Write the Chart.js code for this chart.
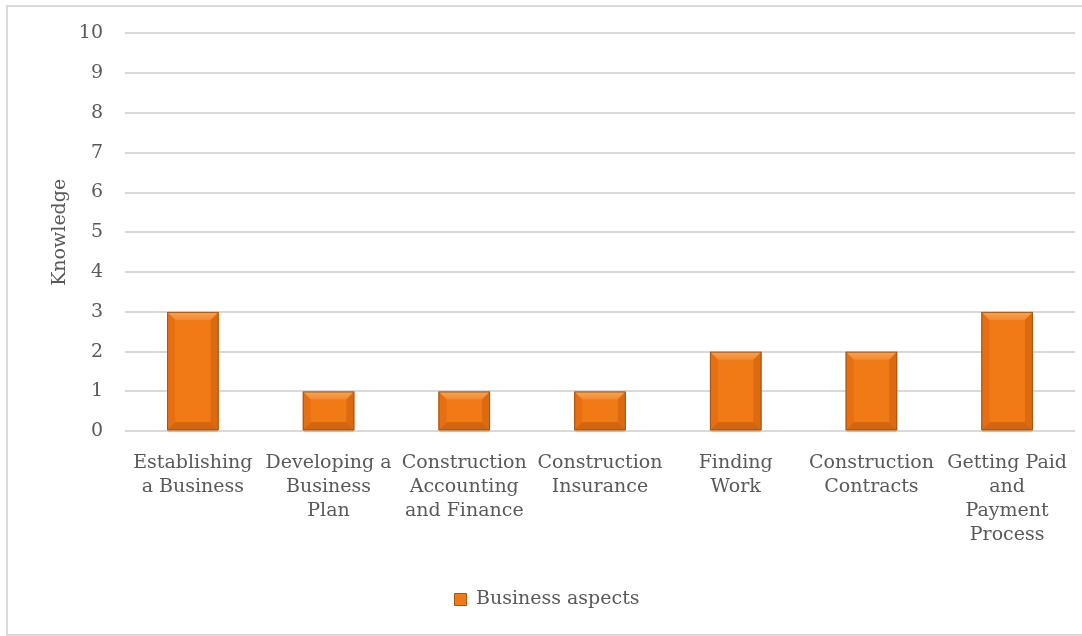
<!DOCTYPE html>
<html>
<head>
<meta charset="utf-8">
<script src="https://cdn.jsdelivr.net/npm/chart.js@4"></script>
<style>
  html, body { margin: 0; padding: 0; background: #fff; overflow: hidden; }
  #frame { position: absolute; left: 6px; top: 5px; width: 1090px; height: 627px; border: 2px solid #d9d9d9; pointer-events: none; }
  canvas { position: absolute; left: 0; top: 0; }
</style>
</head>
<body>
<canvas id="chart" width="1082" height="636"></canvas>
<div id="frame"></div>
<script>
// categories (wrapped the way the original chart wraps them)
const categories = [
    ['Establishing', 'a Business'],
    ['Developing a', 'Business', 'Plan'],
    ['Construction', 'Accounting', 'and Finance'],
    ['Construction', 'Insurance'],
    ['Finding', 'Work'],
    ['Construction', 'Contracts'],
    ['Getting Paid', 'and', 'Payment', 'Process']
];

// knowledge score per aspect
const knowledgeValues = [3, 1, 1, 1, 2, 2, 3];

const seriesName = 'Business aspects';
const yMin = 0;
const yMax = 10;

const fontFamily = '"DejaVu Serif", "Liberation Serif", serif';
const textColor = '#595959';

// draws the bevelled look on each bar, from the bar elements chart.js placed
const bevelPlugin = {
    id: 'bevel',
    afterDatasetsDraw(chart) {
        const c = chart.ctx;
        chart.getDatasetMeta(0).data.forEach(bar => {
            const l = bar.x - bar.width / 2;
            const r = bar.x + bar.width / 2;
            const t = Math.min(bar.y, bar.base);
            const b = Math.max(bar.y, bar.base);
            const s = Math.min(8, (b - t) / 4, bar.width / 5);

            c.save();
            // soft shadow under the bar
            c.fillStyle = 'rgba(0,0,0,0.12)';
            c.fillRect(l + 1, b, bar.width - 2, 2);
            // top face
            const g = c.createLinearGradient(0, t, 0, t + s);
            g.addColorStop(0, '#f7a458');
            g.addColorStop(1, '#f38a30');
            c.fillStyle = g;
            c.beginPath();
            c.moveTo(l, t); c.lineTo(r, t); c.lineTo(r - s, t + s); c.lineTo(l + s, t + s);
            c.closePath(); c.fill();
            // bottom face
            c.fillStyle = '#d2650f';
            c.beginPath();
            c.moveTo(l, b); c.lineTo(r, b); c.lineTo(r - s, b - s); c.lineTo(l + s, b - s);
            c.closePath(); c.fill();
            // left face
            c.fillStyle = '#e56f12';
            c.beginPath();
            c.moveTo(l, t); c.lineTo(l + s, t + s); c.lineTo(l + s, b - s); c.lineTo(l, b);
            c.closePath(); c.fill();
            // right face
            c.fillStyle = '#dc6a10';
            c.beginPath();
            c.moveTo(r, t); c.lineTo(r - s, t + s); c.lineTo(r - s, b - s); c.lineTo(r, b);
            c.closePath(); c.fill();
            // outline
            c.strokeStyle = '#a9550f';
            c.lineWidth = 1;
            c.strokeRect(l + 0.5, t + 0.5, bar.width - 1, b - t - 1);
            c.restore();
        });
    }
};

const ctx = document.getElementById('chart').getContext('2d');

const chart = new Chart(ctx, {
    type: 'bar',
    data: {
        labels: categories,
        datasets: [{
            label: seriesName,
            data: knowledgeValues,
            backgroundColor: '#f07a16',
            borderColor: '#a9550f',
            borderWidth: 1,
            barPercentage: 0.38,
            categoryPercentage: 1.0
        }]
    },
    options: {
        responsive: false,
        animation: false,
        layout: {
            padding: { left: 19, right: 7, top: 28, bottom: 17 }
        },
        plugins: {
            legend: {
                position: 'bottom',
                labels: {
                    color: textColor,
                    font: { family: fontFamily, size: 19 },
                    boxWidth: 12,
                    boxHeight: 12,
                    padding: 20
                }
            },
            tooltip: { enabled: false }
        },
        scales: {
            x: {
                grid: { display: false },
                border: { display: false },
                afterFit(scale) {
                    scale.height += 11;  // gap between labels and legend
                },
                ticks: {
                    color: textColor,
                    font: { family: fontFamily, size: 19, lineHeight: 1.26 },
                    maxRotation: 0,
                    minRotation: 0,
                    autoSkip: false,
                    padding: 12
                }
            },
            y: {
                min: yMin,
                max: yMax,
                grid: { color: '#d9d9d9', lineWidth: 2, drawTicks: false },
                border: { display: false },
                ticks: {
                    stepSize: 1,
                    color: textColor,
                    font: { family: fontFamily, size: 19 },
                    padding: 22
                },
                title: {
                    display: true,
                    text: 'Knowledge',
                    color: textColor,
                    font: { family: fontFamily, size: 19 },
                    padding: { top: 30, bottom: -15 }
                }
            }
        }
    },
    plugins: [bevelPlugin]
});
</script>
</body>
</html>
